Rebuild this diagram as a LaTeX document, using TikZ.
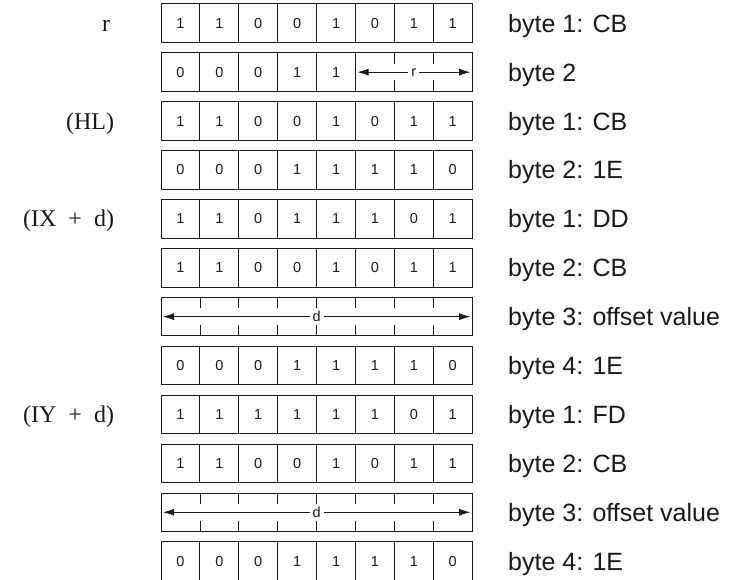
\documentclass[tikz,border=0pt]{standalone}
\usepackage{fontspec}
\setmainfont{Liberation Serif}
\setsansfont{Liberation Sans}
\usetikzlibrary{arrows.meta,calc}
\definecolor{inkblk}{RGB}{25,25,25}

\begin{document}
\begin{tikzpicture}[
  x=1pt,y=-1pt,
  every node/.style={inner sep=0pt,outer sep=0pt,text=inkblk},
  bit/.style={draw=inkblk,line width=1pt,minimum width=38.9pt,
    minimum height=38.5pt,align=center,
    font=\sffamily\fontsize{14.5}{14.5}\selectfont},
  fld/.style={bit,minimum width=116.7pt},
  wide/.style={bit,minimum width=311.2pt},
  fldlbl/.style={fill=white,inner sep=3pt,
    font=\sffamily\fontsize{14.5}{14.5}\selectfont},
  lbl/.style={anchor=base west,font=\sffamily\fontsize{25}{25}\selectfont},
  reg/.style={anchor=base east,font=\fontsize{24}{24}\selectfont},
  span/.style={line width=0.8pt,draw=inkblk,shorten <=2pt,shorten >=2pt,
    {Latex[length=11pt,width=7pt]}-{Latex[length=11pt,width=7pt]}},
  tick/.style={line width=0.8pt,draw=inkblk},
]
\useasboundingbox (0,0) rectangle (738,580);

% r : byte 1
\node[bit,anchor=north west](R1C1)at(161,4){1};
\node[bit,anchor=west](R1C2)at(R1C1.east){1};
\node[bit,anchor=west](R1C3)at(R1C2.east){0};
\node[bit,anchor=west](R1C4)at(R1C3.east){0};
\node[bit,anchor=west](R1C5)at(R1C4.east){1};
\node[bit,anchor=west](R1C6)at(R1C5.east){0};
\node[bit,anchor=west](R1C7)at(R1C6.east){1};
\node[bit,anchor=west](R1C8)at(R1C7.east){1};
\node[reg](R1R)at([xshift=-51pt,yshift=-8pt]R1C1.west){r};
\node[lbl](R1L)at([xshift=36pt,yshift=-9pt]R1C8.east){byte 1: CB};

% r : byte 2
\node[bit,anchor=north west](R2C1)at([yshift=-10.4pt]R1C1.south west){0};
\node[bit,anchor=west](R2C2)at(R2C1.east){0};
\node[bit,anchor=west](R2C3)at(R2C2.east){0};
\node[bit,anchor=west](R2C4)at(R2C3.east){1};
\node[bit,anchor=west](R2C5)at(R2C4.east){1};
\node[fld,anchor=west](R2F)at(R2C5.east){};
\draw[span](R2F.west)--(R2F.east);
\node[fldlbl](R2FL)at(R2F.center){r};
\foreach \i in {1,2}{
  \draw[tick]([xshift=\i*38.9pt]R2F.north west)--++(0,11);
  \draw[tick]([xshift=\i*38.9pt]R2F.south west)--++(0,-11);
}
\node[lbl](R2L)at([xshift=36pt,yshift=-9pt]R2F.east){byte 2};

% (HL) : byte 1
\node[bit,anchor=north west](R3C1)at([yshift=-10.4pt]R2C1.south west){1};
\node[bit,anchor=west](R3C2)at(R3C1.east){1};
\node[bit,anchor=west](R3C3)at(R3C2.east){0};
\node[bit,anchor=west](R3C4)at(R3C3.east){0};
\node[bit,anchor=west](R3C5)at(R3C4.east){1};
\node[bit,anchor=west](R3C6)at(R3C5.east){0};
\node[bit,anchor=west](R3C7)at(R3C6.east){1};
\node[bit,anchor=west](R3C8)at(R3C7.east){1};
\node[reg](R3R)at([xshift=-47pt,yshift=-8pt]R3C1.west){(HL)};
\node[lbl](R3L)at([xshift=36pt,yshift=-9pt]R3C8.east){byte 1: CB};

% (HL) : byte 2
\node[bit,anchor=north west](R4C1)at([yshift=-10.4pt]R3C1.south west){0};
\node[bit,anchor=west](R4C2)at(R4C1.east){0};
\node[bit,anchor=west](R4C3)at(R4C2.east){0};
\node[bit,anchor=west](R4C4)at(R4C3.east){1};
\node[bit,anchor=west](R4C5)at(R4C4.east){1};
\node[bit,anchor=west](R4C6)at(R4C5.east){1};
\node[bit,anchor=west](R4C7)at(R4C6.east){1};
\node[bit,anchor=west](R4C8)at(R4C7.east){0};
\node[lbl](R4L)at([xshift=36pt,yshift=-9pt]R4C8.east){byte 2: 1E};

% (IX + d) : byte 1
\node[bit,anchor=north west](R5C1)at([yshift=-10.4pt]R4C1.south west){1};
\node[bit,anchor=west](R5C2)at(R5C1.east){1};
\node[bit,anchor=west](R5C3)at(R5C2.east){0};
\node[bit,anchor=west](R5C4)at(R5C3.east){1};
\node[bit,anchor=west](R5C5)at(R5C4.east){1};
\node[bit,anchor=west](R5C6)at(R5C5.east){1};
\node[bit,anchor=west](R5C7)at(R5C6.east){0};
\node[bit,anchor=west](R5C8)at(R5C7.east){1};
\node[reg](R5R)at([xshift=-47pt,yshift=-8pt]R5C1.west){(IX~~+~~d)};
\node[lbl](R5L)at([xshift=36pt,yshift=-9pt]R5C8.east){byte 1: DD};

% (IX + d) : byte 2
\node[bit,anchor=north west](R6C1)at([yshift=-10.4pt]R5C1.south west){1};
\node[bit,anchor=west](R6C2)at(R6C1.east){1};
\node[bit,anchor=west](R6C3)at(R6C2.east){0};
\node[bit,anchor=west](R6C4)at(R6C3.east){0};
\node[bit,anchor=west](R6C5)at(R6C4.east){1};
\node[bit,anchor=west](R6C6)at(R6C5.east){0};
\node[bit,anchor=west](R6C7)at(R6C6.east){1};
\node[bit,anchor=west](R6C8)at(R6C7.east){1};
\node[lbl](R6L)at([xshift=36pt,yshift=-9pt]R6C8.east){byte 2: CB};

% (IX + d) : byte 3
\node[wide,anchor=north west](R7F)at([yshift=-10.4pt]R6C1.south west){};
\draw[span](R7F.west)--(R7F.east);
\node[fldlbl](R7FL)at(R7F.center){d};
\foreach \i in {1,...,7}{
  \draw[tick]([xshift=\i*38.9pt]R7F.north west)--++(0,11);
  \draw[tick]([xshift=\i*38.9pt]R7F.south west)--++(0,-11);
}
\node[lbl](R7L)at([xshift=36pt,yshift=-9pt]R7F.east){byte 3: offset value};

% (IX + d) : byte 4
\node[bit,anchor=north west](R8C1)at([yshift=-10.4pt]R7F.south west){0};
\node[bit,anchor=west](R8C2)at(R8C1.east){0};
\node[bit,anchor=west](R8C3)at(R8C2.east){0};
\node[bit,anchor=west](R8C4)at(R8C3.east){1};
\node[bit,anchor=west](R8C5)at(R8C4.east){1};
\node[bit,anchor=west](R8C6)at(R8C5.east){1};
\node[bit,anchor=west](R8C7)at(R8C6.east){1};
\node[bit,anchor=west](R8C8)at(R8C7.east){0};
\node[lbl](R8L)at([xshift=36pt,yshift=-9pt]R8C8.east){byte 4: 1E};

% (IY + d) : byte 1
\node[bit,anchor=north west](R9C1)at([yshift=-10.4pt]R8C1.south west){1};
\node[bit,anchor=west](R9C2)at(R9C1.east){1};
\node[bit,anchor=west](R9C3)at(R9C2.east){1};
\node[bit,anchor=west](R9C4)at(R9C3.east){1};
\node[bit,anchor=west](R9C5)at(R9C4.east){1};
\node[bit,anchor=west](R9C6)at(R9C5.east){1};
\node[bit,anchor=west](R9C7)at(R9C6.east){0};
\node[bit,anchor=west](R9C8)at(R9C7.east){1};
\node[reg](R9R)at([xshift=-47pt,yshift=-8pt]R9C1.west){(IY~~+~~d)};
\node[lbl](R9L)at([xshift=36pt,yshift=-9pt]R9C8.east){byte 1: FD};

% (IY + d) : byte 2
\node[bit,anchor=north west](R10C1)at([yshift=-10.4pt]R9C1.south west){1};
\node[bit,anchor=west](R10C2)at(R10C1.east){1};
\node[bit,anchor=west](R10C3)at(R10C2.east){0};
\node[bit,anchor=west](R10C4)at(R10C3.east){0};
\node[bit,anchor=west](R10C5)at(R10C4.east){1};
\node[bit,anchor=west](R10C6)at(R10C5.east){0};
\node[bit,anchor=west](R10C7)at(R10C6.east){1};
\node[bit,anchor=west](R10C8)at(R10C7.east){1};
\node[lbl](R10L)at([xshift=36pt,yshift=-9pt]R10C8.east){byte 2: CB};

% (IY + d) : byte 3
\node[wide,anchor=north west](R11F)at([yshift=-10.4pt]R10C1.south west){};
\draw[span](R11F.west)--(R11F.east);
\node[fldlbl](R11FL)at(R11F.center){d};
\foreach \i in {1,...,7}{
  \draw[tick]([xshift=\i*38.9pt]R11F.north west)--++(0,11);
  \draw[tick]([xshift=\i*38.9pt]R11F.south west)--++(0,-11);
}
\node[lbl](R11L)at([xshift=36pt,yshift=-9pt]R11F.east){byte 3: offset value};

% (IY + d) : byte 4
\node[bit,anchor=north west](R12C1)at([yshift=-10.4pt]R11F.south west){0};
\node[bit,anchor=west](R12C2)at(R12C1.east){0};
\node[bit,anchor=west](R12C3)at(R12C2.east){0};
\node[bit,anchor=west](R12C4)at(R12C3.east){1};
\node[bit,anchor=west](R12C5)at(R12C4.east){1};
\node[bit,anchor=west](R12C6)at(R12C5.east){1};
\node[bit,anchor=west](R12C7)at(R12C6.east){1};
\node[bit,anchor=west](R12C8)at(R12C7.east){0};
\node[lbl](R12L)at([xshift=36pt,yshift=-9pt]R12C8.east){byte 4: 1E};
\end{tikzpicture}
\end{document}
